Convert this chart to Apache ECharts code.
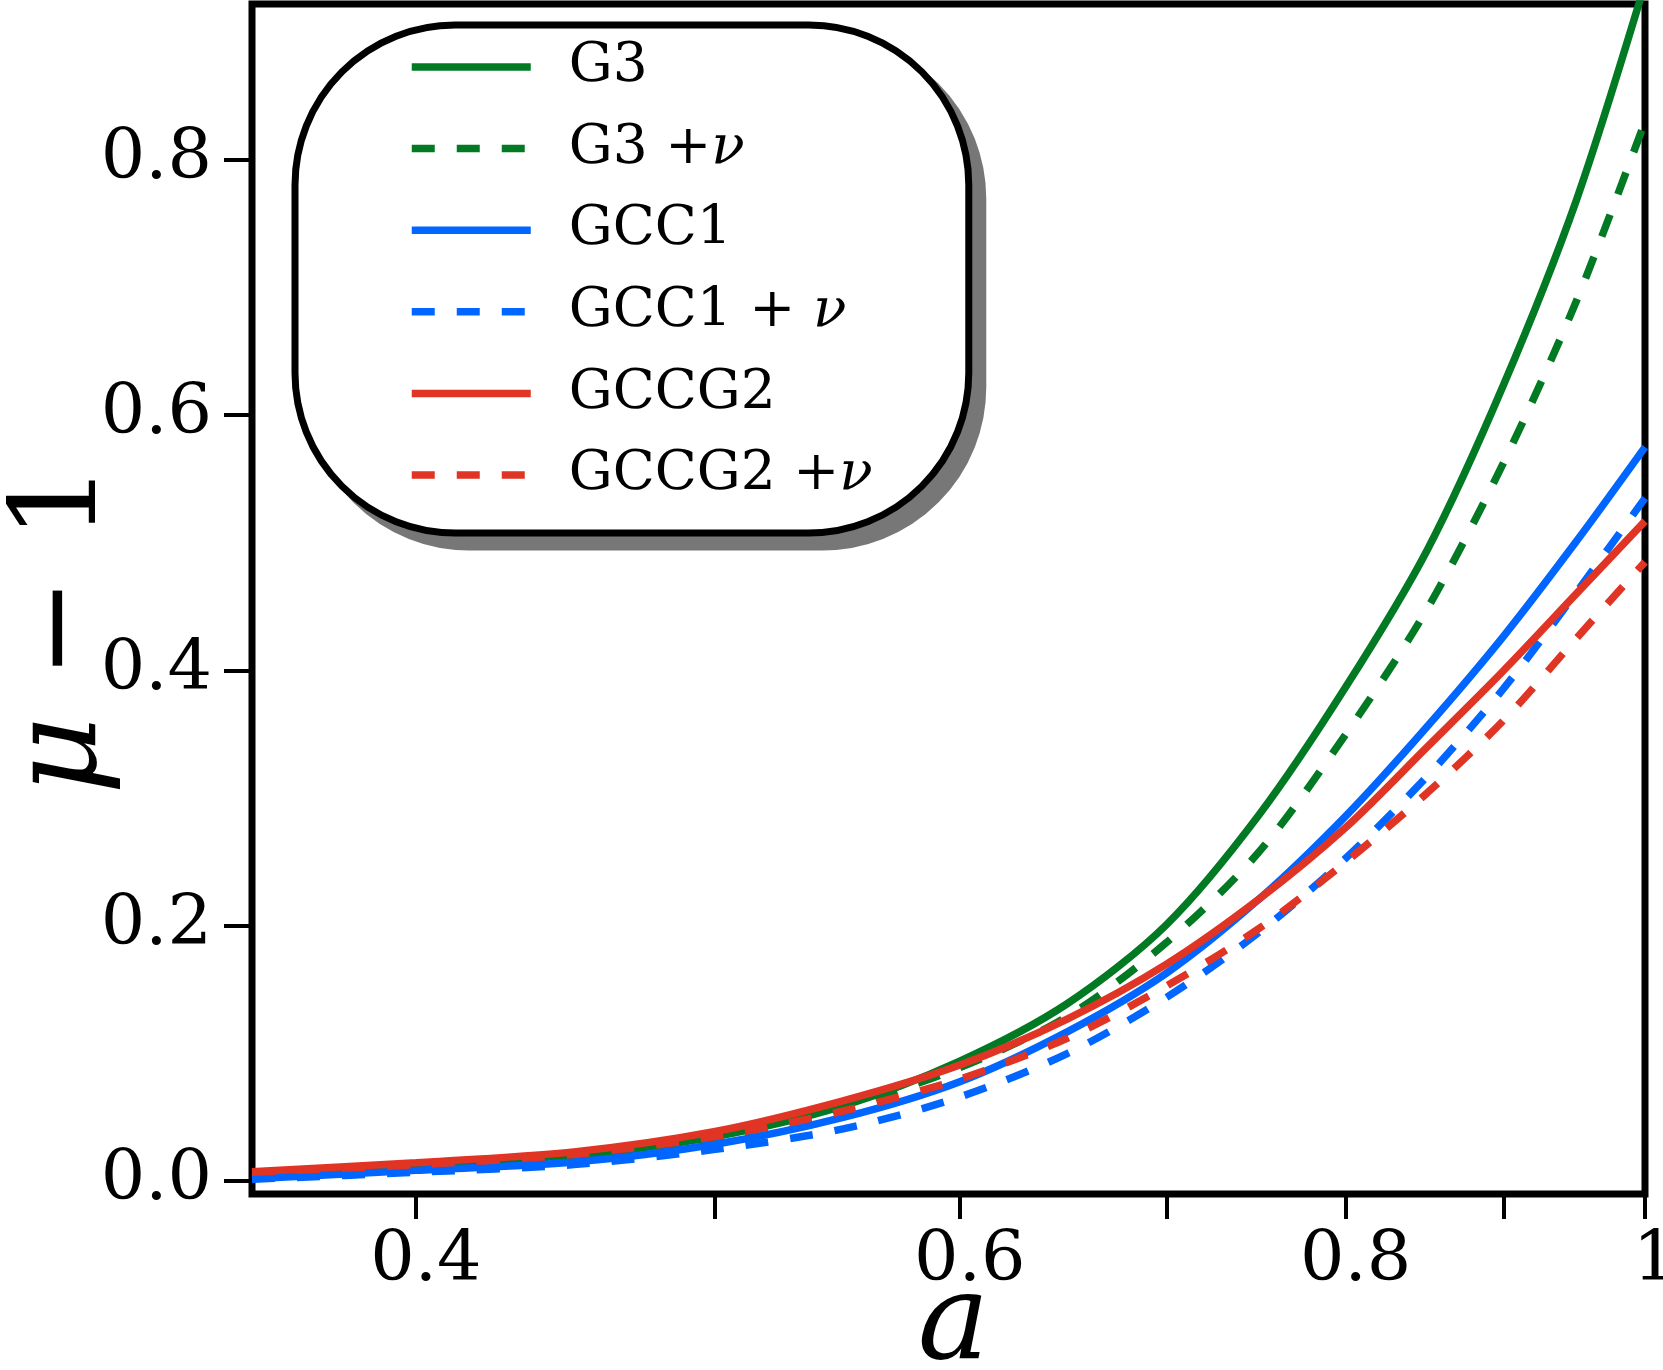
<!DOCTYPE html>
<html>
<head>
<meta charset="utf-8">
<script src="https://cdn.jsdelivr.net/npm/echarts@6/dist/echarts.min.js"></script>
<style>
	html, body { margin: 0; padding: 0; background: #fff; }
	#chart { width: 1663px; height: 1370px; }
</style>
</head>
<body>
<div id="chart"></div>
<script>
var scaleFactor = [0.354, 0.4, 0.45, 0.5, 0.55, 0.6, 0.65, 0.7, 0.75, 0.8, 0.85, 0.9, 0.95, 1.0];

var g3      = [0.004, 0.011, 0.020, 0.035, 0.059, 0.094, 0.139, 0.201, 0.287, 0.387, 0.494, 0.624, 0.768, 0.938];
var g3Nu    = [0.004, 0.011, 0.020, 0.034, 0.058, 0.089, 0.129, 0.187, 0.258, 0.350, 0.448, 0.563, 0.689, 0.830];
var gcc1    = [0.002, 0.0085, 0.015, 0.029, 0.050, 0.078, 0.117, 0.163, 0.221, 0.286, 0.356, 0.427, 0.501, 0.575];
var gcc1Nu  = [0.0015, 0.007, 0.013, 0.025, 0.041, 0.066, 0.100, 0.144, 0.195, 0.253, 0.317, 0.386, 0.461, 0.535];
var gccg2   = [0.0075, 0.0145, 0.023, 0.039, 0.063, 0.091, 0.127, 0.170, 0.221, 0.277, 0.340, 0.400, 0.460, 0.517];
var gccg2Nu = [0.007, 0.013, 0.021, 0.035, 0.055, 0.080, 0.112, 0.153, 0.198, 0.250, 0.304, 0.361, 0.425, 0.485];

var xTicks = [0.4, 0.5, 0.6, 0.7, 0.8, 0.9, 1];
var xLabels = [0.4, 0.6, 0.8, 1];
var yTicks = [0, 0.2, 0.4, 0.6, 0.8];

var FONT = 'DejaVu Serif';
var GREEN = '#027a23', BLUE = '#0066ff', RED = '#e03424';
var DASH = [23, 22];

// x axis is logarithmic in a: plot against ln(a)
function pairs(vals) {
	return scaleFactor.map(function(a, i){ return [Math.log(a), vals[i]]; });
}

function line(name, vals, color, dashed) {
	return {
		name: name,
		type: 'line',
		data: pairs(vals),
		smooth: 0.3,
		symbol: 'none',
		clip: true,
		lineStyle: { color: color, width: 7.5, type: dashed ? DASH : 'solid' },
		itemStyle: { color: color }
	};
}

// legend box; the second copy (grey, offset) is its drop shadow
function legendBox(shadow) {
	var off = shadow ? 14 : 0;
	var txt = shadow ? 'transparent' : '#000';
	return {
		orient: 'vertical',
		left: 295 + off, top: 25 + off,
		z: shadow ? 3 : 5,
		padding: [14, 96, 30, 113],
		itemWidth: 119, itemHeight: 14, itemGap: 25.6,
		backgroundColor: shadow ? '#777' : '#fff',
		borderColor: shadow ? '#777' : '#000', borderWidth: 7, borderRadius: 160,
		selectedMode: false,
		lineStyle: { width: 7.5, opacity: shadow ? 0 : 1 },
		itemStyle: { opacity: 0 },
		formatter: function(name){ return name.replace('ν', '{v|ν}'); },
		textStyle: {
			fontFamily: FONT, fontSize: 55, color: txt, lineHeight: 56,
			width: 300, padding: [0, 0, 0, 33],
			rich: { v: { fontFamily: FONT, fontSize: 55, fontStyle: 'italic', color: txt, lineHeight: 56 } }
		}
	};
}

var chart = echarts.init(document.getElementById('chart'), null, { renderer: 'canvas' });

chart.setOption({
	animation: false,
	backgroundColor: '#fff',
	grid: {
		left: 252, right: 18, top: 4, bottom: 176,
		containLabel: false,
		outerBoundsMode: 'none',
		show: true, borderColor: '#000', borderWidth: 7, backgroundColor: 'transparent'
	},
	legend: [legendBox(true), legendBox(false)],
	xAxis: {
		type: 'value',
		min: Math.log(scaleFactor[0]), max: 0,
		name: 'a',
		nameLocation: 'middle',
		nameGap: 73,
		nameMoveOverlap: false,
		nameTextStyle: { fontFamily: FONT, fontSize: 120, fontStyle: 'italic', color: '#000', padding: [0, 0, 0, 10] },
		axisLine: { show: false, onZero: false },
		splitLine: { show: false },
		axisTick: {
			show: true, inside: false, length: 25,
			customValues: xTicks.map(Math.log),
			lineStyle: { color: '#000', width: 4 }
		},
		axisLabel: {
			margin: 33,
			padding: [0, 0, 0, 20],
			customValues: xLabels.map(Math.log),
			fontFamily: FONT, fontSize: 70, color: '#000',
			formatter: function(v){
				var a = Math.exp(v);
				return Math.abs(a - 1) < 1e-6 ? '1' : a.toFixed(1);
			}
		}
	},
	yAxis: {
		type: 'value',
		min: -0.010, max: 0.922,
		name: '{m|μ} − 1',
		nameLocation: 'middle',
		nameGap: 128,
		nameMoveOverlap: false,
		nameTextStyle: {
			fontFamily: FONT, fontSize: 120, color: '#000', padding: [0, 60, 0, 0],
			rich: { m: { fontFamily: FONT, fontSize: 120, fontStyle: 'italic', color: '#000' } }
		},
		axisLine: { show: false, onZero: false },
		splitLine: { show: false },
		axisTick: {
			show: true, inside: false, length: 28,
			customValues: yTicks,
			lineStyle: { color: '#000', width: 4 }
		},
		axisLabel: {
			margin: 40,
			customValues: yTicks,
			fontFamily: FONT, fontSize: 70, color: '#000',
			formatter: function(v){ return v.toFixed(1); }
		}
	},
	series: [
		line('G3', g3, GREEN, false),
		line('G3 +ν', g3Nu, GREEN, true),
		line('GCC1', gcc1, BLUE, false),
		line('GCC1 + ν', gcc1Nu, BLUE, true),
		line('GCCG2', gccg2, RED, false),
		line('GCCG2 +ν', gccg2Nu, RED, true)
	]
});
</script>
</body>
</html>
